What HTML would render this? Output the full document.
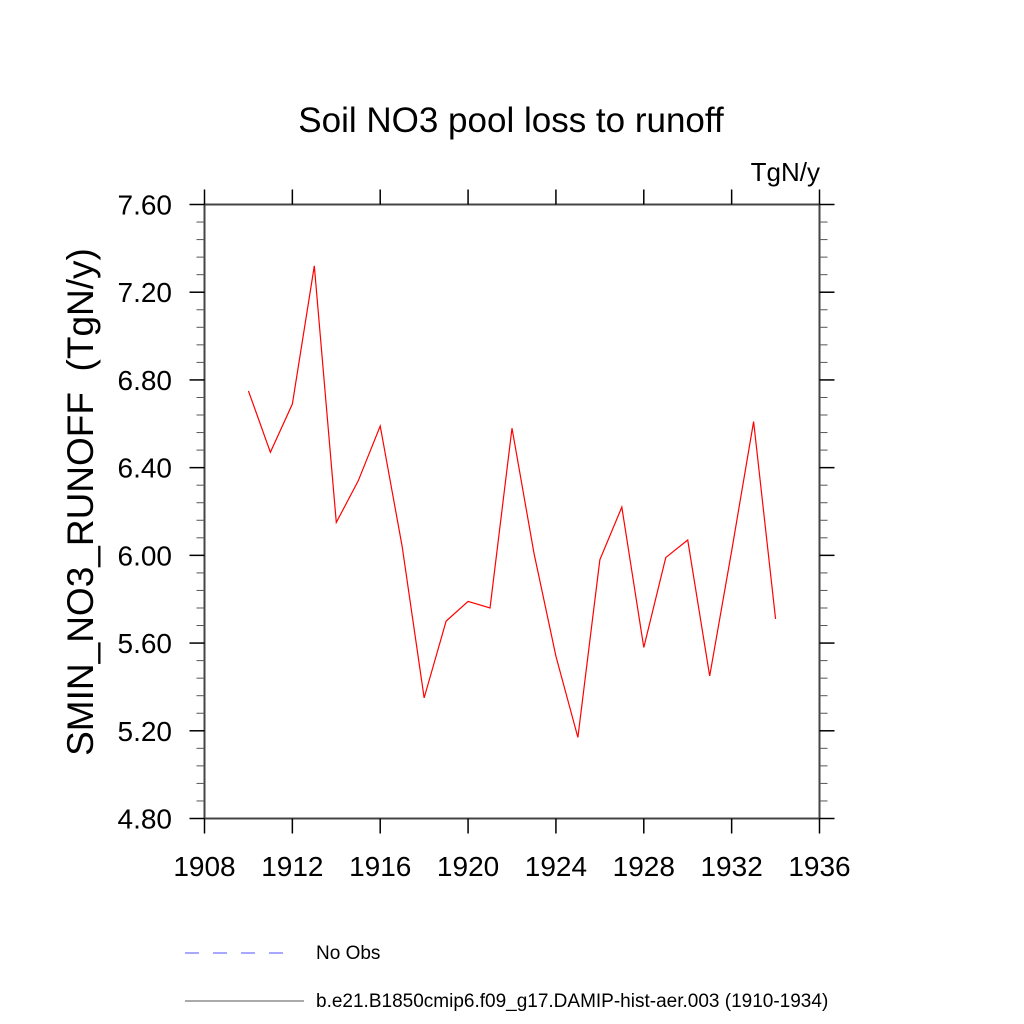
<!DOCTYPE html>
<html><head><meta charset="utf-8"><style>body{margin:0;background:#fff}svg{display:block}</style></head>
<body>
<svg id="chart" width="1024" height="1024" xmlns="http://www.w3.org/2000/svg" font-family="Liberation Sans, sans-serif">
<rect width="1024" height="1024" fill="#fff"/>
<text x="511" y="132" font-size="35" text-anchor="middle">Soil NO3 pool loss to runoff</text>
<text x="820" y="181" font-size="26" text-anchor="end">TgN/y</text>
<text transform="translate(93,502) rotate(-90)" font-size="37" text-anchor="middle" style="white-space:pre" xml:space="preserve">SMIN_NO3_RUNOFF  (TgN/y)</text>
<g id="axes"></g>
<polyline id="series" fill="none" stroke="#ff0000" stroke-width="1.2"/>
<line x1="185" y1="953" x2="292" y2="953" stroke="#5050ff" stroke-width="1" stroke-dasharray="14,14"/>
<text x="316" y="959" font-size="19">No Obs</text>
<line x1="185" y1="1001" x2="304" y2="1001" stroke="#555" stroke-width="1"/>
<text x="316" y="1007" font-size="19">b.e21.B1850cmip6.f09_g17.DAMIP-hist-aer.003 (1910-1934)</text>
</svg>
<script>
const years=[1910,1911,1912,1913,1914,1915,1916,1917,1918,1919,1920,1921,1922,1923,1924,1925,1926,1927,1928,1929,1930,1931,1932,1933,1934];
const values=[6.75,6.47,6.69,7.32,6.15,6.34,6.59,6.04,5.35,5.70,5.79,5.76,6.58,6.01,5.54,5.17,5.98,6.22,5.58,5.99,6.07,5.45,6.02,6.61,5.71];
const xTicks=[1908,1912,1916,1920,1924,1928,1932,1936];
const yTicks=[4.80,5.20,5.60,6.00,6.40,6.80,7.20,7.60];
const L=204.5,R=819.5,T=204.5,B=818.5;
const xs=v=>L+(v-1908)/(1936-1908)*(R-L);
const ys=v=>B-(v-4.8)/(7.6-4.8)*(B-T);
const NS="http://www.w3.org/2000/svg";
const g=document.getElementById('axes');
function ln(x1,y1,x2,y2,name,w,c){const e=document.createElementNS(NS,'line');e.setAttribute('x1',x1);e.setAttribute('y1',y1);e.setAttribute('x2',x2);e.setAttribute('y2',y2);e.setAttribute('stroke',c||'#000');e.setAttribute('stroke-width',w||1.5);


g.appendChild(e);}
function tx(x,y,s,anchor,name){const e=document.createElementNS(NS,'text');e.setAttribute('x',x);e.setAttribute('y',y);e.setAttribute('font-size','28');e.setAttribute('text-anchor',anchor);e.textContent=s;


g.appendChild(e);}
ln(L,T,R,T,'plot-frame-top',2,'#444');ln(L,B,R,B,'plot-frame-bottom',2,'#444');ln(L,T,L,B,'plot-frame-left',2,'#444');ln(R,T,R,B,'plot-frame-right',2,'#444');
xTicks.forEach(v=>{const x=xs(v);ln(x,B,x,B+15,'x-tick');ln(x,T,x,T-15,'x-tick-top');tx(x,876,String(v),'middle','x-tick-label');});
for(let i=0;i<=35;i++){const v=4.8+i*0.08;const y=ys(v);const major=i%5===0;const len=major?15:8;
ln(L-len,y,L,y,major?'y-tick':'y-minor-tick',major?1.5:1,major?'#000':'#555');ln(R,y,R+len,y,major?'y-tick-right':'y-minor-tick-right',major?1.5:1,major?'#000':'#555');}
yTicks.forEach(v=>tx(172,ys(v)+10,v.toFixed(2),'end','y-tick-label'));
document.getElementById('series').setAttribute('points',years.map((y,i)=>xs(y)+','+ys(values[i])).join(' '));
</script>
</body></html>
